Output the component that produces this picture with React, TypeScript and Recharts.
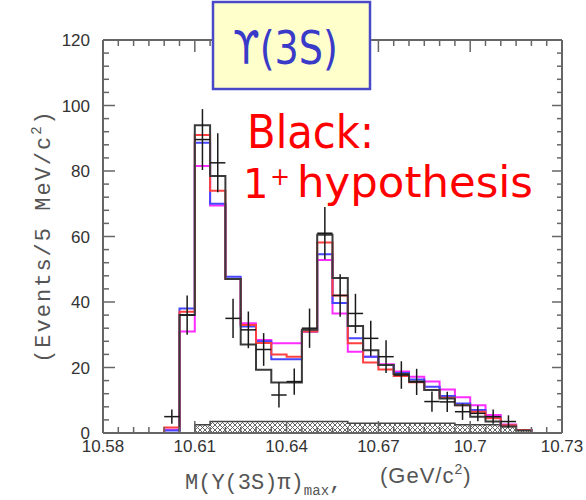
import React from 'react';
import { ComposedChart, Line, Area, Scatter, ErrorBar, XAxis, YAxis } from 'recharts';

const W = 586;
const H = 500;

// 30 bins of 5 MeV from 10.58 to 10.73 GeV
const BIN_START = 10.58;
const BIN_WIDTH = 0.005;

const dataCounts = [0, 0, 0, 0, 5, 36, 89.6, 82.5, 35, 31.5, 25.5, 11.6, 15.7, 32, 61, 42, 36.5, 28.9, 23.3, 17.7, 15.6, 9.6, 9.5, 6.5, 6, 5, 3.5, 0, 0, 0];
const dataErrors = [0, 0, 0, 0, 2.2, 6, 9.3, 9, 6, 5.6, 5, 3.8, 4, 6, 8, 6.5, 6, 5.4, 5, 4.2, 4, 3.1, 3.1, 2.5, 2.4, 2.2, 1.9, 0, 0, 0];

const blackHist = [0, 0, 0, 0, 0, 36, 94, 78.5, 47, 27, 19.3, 15.4, 15.4, 31.5, 60.5, 47.3, 32.7, 25.3, 20.8, 18, 15.7, 13.1, 10.5, 8.5, 5, 3.5, 2, 0.8, 0, 0];
const redHist = [0, 0, 0, 0, 1.7, 37, 91, 74, 47, 33, 27.5, 24, 23.3, 31, 58.2, 42, 27.4, 21.5, 19.4, 17.4, 15.5, 13.1, 10.8, 8.5, 6.5, 4.5, 2.4, 0.9, 0, 0];
const blueHist = [0, 0, 0, 0, 0.8, 38, 88.6, 70, 47.7, 32.5, 28, 22.5, 22.5, 31, 54.6, 39.7, 28.9, 23.3, 20.8, 18.3, 16.3, 14.1, 11.3, 9, 7, 4.8, 2.4, 0.9, 0, 0];
const magentaHist = [0, 0, 0, 0, 1, 31, 81.5, 69.5, 47, 33.5, 28.4, 27.4, 27.4, 31, 52.8, 36.5, 24.8, 23.3, 21, 18.8, 17.2, 15.7, 13.3, 10.9, 8.5, 5.5, 2.6, 0.9, 0, 0];
const bgHist = [0, 0, 0, 0, 0, 0, 2.5, 3.5, 3.5, 3.5, 3.5, 3.5, 3.5, 3.5, 3.5, 3.5, 3, 3, 3, 3, 3, 3, 3, 2.5, 2.5, 2.5, 2, 1, 0, 0];

const xMajor = [10.58, 10.61, 10.64, 10.67, 10.7, 10.73];
const yMajor = [0, 20, 40, 60, 80, 100, 120];

const xTicks: number[] = [];
for (let i = 0; i <= 30; i++) xTicks.push(+(BIN_START + i * BIN_WIDTH).toFixed(4));
const yTicks: number[] = [];
for (let v = 0; v <= 120; v += 4) yTicks.push(v);

const edge = (i: number) => +(BIN_START + i * BIN_WIDTH).toFixed(4);

function steps(counts: number[]) {
  const first = counts.findIndex((v) => v > 0);
  let last = counts.length - 1;
  while (last > 0 && counts[last] === 0) last--;
  const pts = [{ x: edge(first), y: 0 }];
  for (let i = first; i <= last; i++) pts.push({ x: edge(i), y: counts[i] });
  pts.push({ x: edge(last + 1), y: 0 });
  return pts;
}

const points = dataCounts
  .map((y, i) => ({ x: +(edge(i) + BIN_WIDTH / 2).toFixed(5), y, ex: BIN_WIDTH / 2, ey: dataErrors[i] }))
  .filter((p) => p.y > 0);

const AXIS = '#666';
const TICK_FONT = { fontFamily: 'Liberation Sans, Arial, sans-serif', fontSize: 17, fill: '#333' };

const isMajorX = (v: number) => xMajor.some((m) => Math.abs(m - v) < 1e-6);

const BottomTick = (p: any) => {
  const v = p.payload.value;
  const major = isMajorX(v);
  return (
    <g>
      <line x1={p.x} x2={p.x} y1={p.y} y2={p.y - (major ? 12 : 6)} stroke={AXIS} strokeWidth={1.5} />
      {major && (
        <text x={p.x} y={p.y + 19} textAnchor="middle" {...TICK_FONT}>
          {String(+v.toFixed(3))}
        </text>
      )}
    </g>
  );
};

const TopTick = (p: any) => {
  const major = isMajorX(p.payload.value);
  return <line x1={p.x} x2={p.x} y1={p.y} y2={p.y + (major ? 12 : 6)} stroke={AXIS} strokeWidth={1.5} />;
};

const LeftTick = (p: any) => {
  const v = p.payload.value;
  const major = yMajor.includes(v);
  return (
    <g>
      <line x1={p.x} x2={p.x + (major ? 12 : 6)} y1={p.y} y2={p.y} stroke={AXIS} strokeWidth={1.5} />
      {major && (
        <text x={p.x - 13} y={p.y + 6} textAnchor="end" {...TICK_FONT}>
          {v}
        </text>
      )}
    </g>
  );
};

const RightTick = (p: any) => {
  const major = yMajor.includes(p.payload.value);
  return <line x1={p.x} x2={p.x - (major ? 10 : 5)} y1={p.y} y2={p.y} stroke={AXIS} strokeWidth={1.5} />;
};

const noShape = () => <g />;

export default function App() {
  return (
    <div style={{ position: 'absolute', left: 0, top: 0, width: W, height: H, background: '#fff' }}>
      <svg width={0} height={0} style={{ position: 'absolute' }}>
        <defs>
          <pattern id="bgHatch" width={5} height={5} patternUnits="userSpaceOnUse">
            <path d="M0,5 L5,0 M0,0 L5,5" stroke="#666" strokeWidth={1} />
          </pattern>
        </defs>
      </svg>
      <ComposedChart width={W} height={H} margin={{ top: 39, right: 23, bottom: 37, left: 0 }}>
        <XAxis
          dataKey="x"
          type="number"
          domain={[10.58, 10.73]}
          ticks={xTicks}
          interval={0}
          tickSize={0}
          tickMargin={0}
          tickLine={false}
          tick={(p: any) => <BottomTick {...p} />}
          axisLine={{ stroke: AXIS, strokeWidth: 2 }}
          height={30}
          allowDataOverflow
        />
        <XAxis
          xAxisId="top"
          orientation="top"
          dataKey="x"
          type="number"
          domain={[10.58, 10.73]}
          ticks={xTicks}
          interval={0}
          tickSize={0}
          tickMargin={0}
          tickLine={false}
          tick={(p: any) => <TopTick {...p} />}
          axisLine={{ stroke: AXIS, strokeWidth: 2 }}
          height={1}
          allowDataOverflow
        />
        <YAxis
          type="number"
          domain={[0, 120]}
          ticks={yTicks}
          interval={0}
          tickSize={0}
          tickMargin={0}
          tickLine={false}
          tick={(p: any) => <LeftTick {...p} />}
          axisLine={{ stroke: AXIS, strokeWidth: 2 }}
          width={103}
          allowDataOverflow
        />
        <YAxis
          yAxisId="right"
          orientation="right"
          type="number"
          domain={[0, 120]}
          ticks={yTicks}
          interval={0}
          tickSize={0}
          tickMargin={0}
          tickLine={false}
          tick={(p: any) => <RightTick {...p} />}
          axisLine={{ stroke: AXIS, strokeWidth: 2 }}
          width={1}
          allowDataOverflow
        />
        <Area
          data={steps(bgHist)}
          dataKey="y"
          type="stepAfter"
          stroke="#444"
          strokeWidth={1.5}
          fill="url(#bgHatch)"
          fillOpacity={1}
          dot={false}
          activeDot={false}
          isAnimationActive={false}
        />
        <Line data={steps(magentaHist)} dataKey="y" type="stepAfter" stroke="#ff2cff" strokeWidth={2} dot={false} activeDot={false} isAnimationActive={false} />
        <Line data={steps(blueHist)} dataKey="y" type="stepAfter" stroke="#4646ff" strokeWidth={2} dot={false} activeDot={false} isAnimationActive={false} />
        <Line data={steps(redHist)} dataKey="y" type="stepAfter" stroke="#ff4040" strokeWidth={2} dot={false} activeDot={false} isAnimationActive={false} />
        <Line data={steps(blackHist)} dataKey="y" type="stepAfter" stroke="#3a3a3a" strokeWidth={2} dot={false} activeDot={false} isAnimationActive={false} />
        <Scatter data={points} dataKey="y" shape={noShape} isAnimationActive={false}>
          <ErrorBar dataKey="ey" direction="y" width={0} stroke="#1a1a1a" strokeWidth={1.5} isAnimationActive={false} />
          <ErrorBar dataKey="ex" direction="x" width={0} stroke="#1a1a1a" strokeWidth={1.5} isAnimationActive={false} />
        </Scatter>
        {/* invisible series so the top and right frame axes are drawn */}
        <Scatter xAxisId="top" yAxisId="right" data={points} dataKey="y" shape={noShape} isAnimationActive={false} />
      </ComposedChart>
      <svg width={W} height={H} style={{ position: 'absolute', left: 0, top: 0, pointerEvents: 'none' }}>
        {/* y axis title */}
        <text
          x={50}
          y={236}
          transform="rotate(-90 50 236)"
          textAnchor="middle"
          fontFamily="Liberation Mono, monospace"
          fontSize={22}
          letterSpacing={2}
          fill="#555"
        >
          (Events/5 MeV/c<tspan fontSize={14} dy={-9}>2</tspan>
          <tspan dy={9}>)</tspan>
        </text>
        {/* x axis title */}
        <text x={185} y={489} fontFamily="Liberation Mono, monospace" fontSize={22} fill="#555">
          M(Υ(3S)π)<tspan fontSize={14} dy={6}>max</tspan>
          <tspan dy={-6}>,</tspan>
        </text>
        <text x={380} y={483} fontFamily="Liberation Sans, Arial, sans-serif" fontSize={22} letterSpacing={1} fill="#555">
          (GeV/c<tspan fontSize={14} dy={-9}>2</tspan>
          <tspan dy={9}>)</tspan>
        </text>
        {/* title box */}
        <rect x={213} y={2} width={157} height={87} fill="#ffffcc" stroke="#4848c8" strokeWidth={2.5} />
        <text x={233} y={64} fontFamily="DejaVu Sans, sans-serif" fontSize={46} fill="#3a3ac8" textLength={105} lengthAdjust="spacingAndGlyphs">
          ϒ(3S)
        </text>
        {/* annotation */}
        <text x={247} y={148} fontFamily="DejaVu Sans, sans-serif" fontSize={46} fill="#ff0000" textLength={127} lengthAdjust="spacingAndGlyphs">
          Black:
        </text>
        <text x={243} y={198} fontFamily="DejaVu Sans, sans-serif" fontSize={40} fill="#ff0000">
          1
        </text>
        <text x={270} y={185} fontFamily="DejaVu Sans, sans-serif" fontSize={24} fill="#ff0000">
          +
        </text>
        <text x={297} y={197} fontFamily="DejaVu Sans, sans-serif" fontSize={42} fill="#ff0000" textLength={236} lengthAdjust="spacingAndGlyphs">
          hypothesis
        </text>
      </svg>
    </div>
  );
}
